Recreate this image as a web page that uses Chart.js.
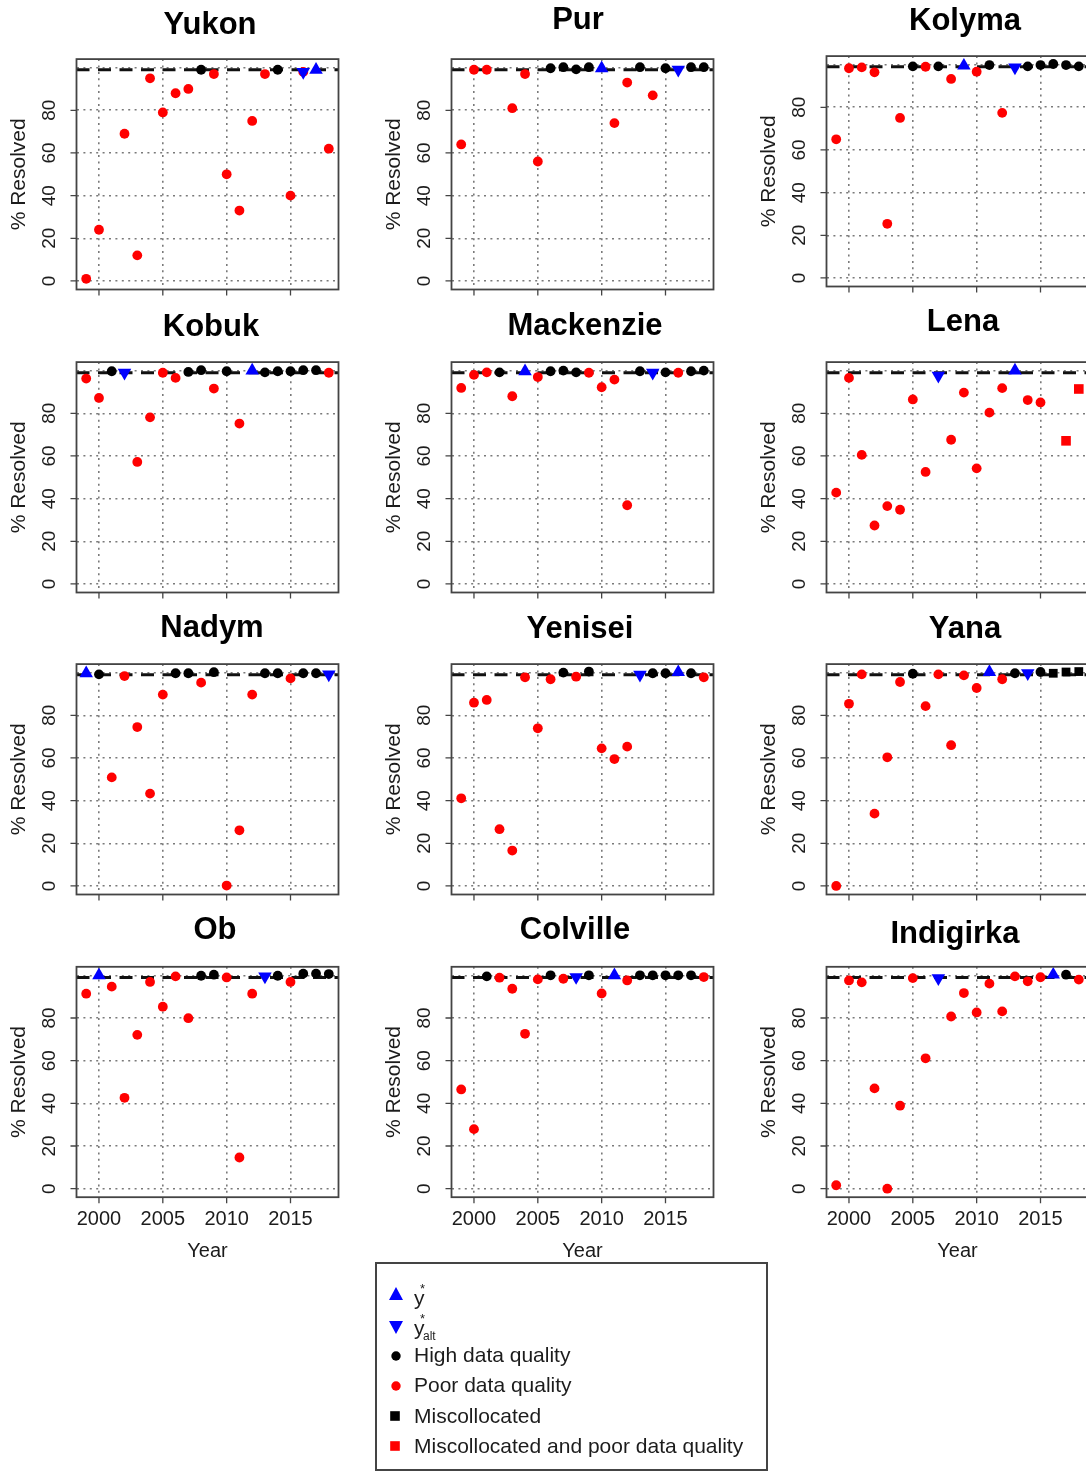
<!DOCTYPE html>
<html>
<head>
<meta charset="utf-8">
<script src="https://cdn.jsdelivr.net/npm/chart.js@4.4.1/dist/chart.umd.min.js"></script>
<style>
  html, body { margin: 0; padding: 0; background: #fff; }
  #page { position: relative; width: 1086px; height: 1472px; overflow: hidden; background: #fff; }
  #page canvas { position: absolute; }
</style>
</head>
<body>
<div id="page"></div>
<script>
// ---- Data: percent of record resolved per year, 1999-2018 ----
const years = [1999, 2000, 2001, 2002, 2003, 2004, 2005, 2006, 2007, 2008,
               2009, 2010, 2011, 2012, 2013, 2014, 2015, 2016, 2017, 2018];
const xTickYears = [2000, 2005, 2010, 2015];
const yTickValues = [0, 20, 40, 60, 80];
const yGridValues = [0, 20, 40, 60, 80, 100];
const resolvedTarget = 99;

// Quality codes: H = high data quality, P = poor data quality,
// M = miscollocated, B = miscollocated and poor quality, - = no marker
const yukonPct = [1, 24, null, 69, 12, 95, 79, 88, 90, 99, 97, 50, 33, 75, 97, 99, 40, 98, 99, 62];
const yukonQuality = 'P P - P P P P P P H P P P P P H P P - P'.split(' ');
const yukonStar = 2017, yukonAlt = 2016;

const purPct = [64, 99, 99, null, 81, 97, 56, 99.7, 100.2, 99.2, 100.2, 99.7, 74, 93, 100.2, 87, 99.7, 99, 100.2, 100.2];
const purQuality = 'P P P - P P P H H H H - P P H P H - H H'.split(' ');
const purStar = 2010, purAlt = 2016;

const kolymaPct = [65, 98.3, 98.7, 96.4, 25.4, 75, 99.2, 99, 99.2, 93.3, 99.5, 96.7, 99.8, 77.4, 98.7, 99.2, 99.8, 100.3, 99.8, 99.2];
const kolymaQuality = 'P P P P P P H P H P - P H P - H H H H H'.split(' ');
const kolymaStar = 2009, kolymaAlt = 2013;

const kobukPct = [96.3, 87.2, 99.7, 99, 57.2, 78.1, 99, 96.6, 99.4, 100.2, 91.6, 99.7, 75.2, 100, 99.2, 99.7, 99.7, 100.2, 100.2, 99];
const kobukQuality = 'P P H - P P P P H H P H P - H H H H H P'.split(' ');
const kobukStar = 2012, kobukAlt = 2002;

const mackenziePct = [91.9, 98, 99.2, 99.2, 88, 99.7, 97, 99.7, 100, 99.2, 99, 92.2, 95.8, 36.9, 99.7, 99, 99.2, 99, 99.7, 100];
const mackenzieQuality = 'P P P H P - P H H H P P P P H - H P H H'.split(' ');
const mackenzieStar = 2004, mackenzieAlt = 2014;

const lenaPct = [42.8, 96.6, 60.5, 27.4, 36.5, 34.8, 86.5, 52.5, 97.6, 67.6, 89.7, 54.2, 80.3, 91.8, 100, 86.2, 85.1, null, 67.1, 91.4];
const lenaQuality = 'P P P P P P P P - P P P P P - P P - B B'.split(' ');
const lenaStar = 2013, lenaAlt = 2007;

const nadymPct = [99.7, 99.2, 50.9, 98.4, 74.5, 43.3, 89.7, 99.7, 99.7, 95.3, 100.2, 0.2, 26.1, 89.7, 99.7, 99.7, 97.3, 99.7, 99.7, 99.2];
const nadymQuality = '- H P P P P P H H P H P P P H H P H H -'.split(' ');
const nadymStar = 1999, nadymAlt = 2018;

const yeniseiPct = [41.1, 85.9, 87.2, 26.6, 16.6, 97.8, 73.9, 96.9, 100, 98.1, 100.5, 64.5, 59.5, 65.3, 99, 99.7, 99.7, 100.2, 99.7, 97.8];
const yeniseiQuality = 'P P P P P P P P H P H P P P - H H - H P'.split(' ');
const yeniseiStar = 2016, yeniseiAlt = 2013;

const yanaPct = [0, 85.4, 99.2, 33.9, 60.3, 95.6, 99.5, 84.3, 99.2, 66, 98.7, 92.8, 100.3, 96.9, 99.7, 99.7, 100.3, 99.7, 100.3, 100.5];
const yanaQuality = 'P P P P P P H P P P P P - P H - H M M M'.split(' ');
const yanaStar = 2011, yanaAlt = 2014;

const obPct = [91.4, 100, 94.7, 42.6, 72.1, 96.9, 85.3, 99.5, 79.9, 99.8, 100.3, 99, 14.6, 91.4, 99.5, 99.8, 96.9, 100.8, 100.8, 100.6];
const obQuality = 'P - P P P P P P P H H P P P - H P H H H'.split(' ');
const obStar = 2000, obAlt = 2013;

const colvillePct = [46.5, 27.9, 99.5, 98.9, 93.7, 72.6, 98.1, 100, 98.4, 99.2, 100, 91.5, 100, 97.6, 100, 100, 100, 100, 100, 99.2];
const colvilleQuality = 'P P H P P P P H P - H P - P H H H H H P'.split(' ');
const colvilleStar = 2011, colvilleAlt = 2008;

const indigirkaPct = [1.6, 97.6, 96.7, 47, 0, 38.9, 98.7, 61.1, 98.7, 80.7, 91.7, 82.6, 96.1, 83.1, 99.5, 97.2, 99.1, 100.3, 100.3, 98];
const indigirkaQuality = 'P P P P P P P P - P P P P P P P P - H P'.split(' ');
const indigirkaStar = 2016, indigirkaAlt = 2007;

const rivers = [
  { name: 'Yukon',     pct: yukonPct,     quality: yukonQuality,     star: yukonStar,     alt: yukonAlt },
  { name: 'Pur',       pct: purPct,       quality: purQuality,       star: purStar,       alt: purAlt },
  { name: 'Kolyma',    pct: kolymaPct,    quality: kolymaQuality,    star: kolymaStar,    alt: kolymaAlt },
  { name: 'Kobuk',     pct: kobukPct,     quality: kobukQuality,     star: kobukStar,     alt: kobukAlt },
  { name: 'Mackenzie', pct: mackenziePct, quality: mackenzieQuality, star: mackenzieStar, alt: mackenzieAlt },
  { name: 'Lena',      pct: lenaPct,      quality: lenaQuality,      star: lenaStar,      alt: lenaAlt },
  { name: 'Nadym',     pct: nadymPct,     quality: nadymQuality,     star: nadymStar,     alt: nadymAlt },
  { name: 'Yenisei',   pct: yeniseiPct,   quality: yeniseiQuality,   star: yeniseiStar,   alt: yeniseiAlt },
  { name: 'Yana',      pct: yanaPct,      quality: yanaQuality,      star: yanaStar,      alt: yanaAlt },
  { name: 'Ob',        pct: obPct,        quality: obQuality,        star: obStar,        alt: obAlt },
  { name: 'Colville',  pct: colvillePct,  quality: colvilleQuality,  star: colvilleStar,  alt: colvilleAlt },
  { name: 'Indigirka', pct: indigirkaPct, quality: indigirkaQuality, star: indigirkaStar, alt: indigirkaAlt }
];

// ---- Layout (page pixels) ----
const BOX_W = 262, BOX_H = 230.4;
const PAD_L = 84, PAD_T = 64, PAD_R = 14, PAD_B = 78;
const X_MIN = 1998.24, X_MAX = 2018.76, Y_MIN = -4, Y_MAX = 104;
const panelBoxes = [
  [76.5, 59.1], [451.5, 59.1], [826.5, 56.1],
  [76.5, 362.1], [451.5, 362.1], [826.5, 362.1],
  [76.5, 664.1], [451.5, 664.1], [826.5, 664.1],
  [76.5, 966.8], [451.5, 966.8], [826.5, 966.8]
];
const titleAnchors = [
  [210, 24], [578, 19], [965, 20],
  [211, 326], [585, 325], [963, 321],
  [212, 627], [580, 628], [965, 628],
  [215, 929], [575, 929], [955, 933]
];

const FONT = '"Liberation Sans", Arial, Helvetica, sans-serif';
const RED = '#ff0000', BLUE = '#0000ff', BLACK = '#000000';
const GRID = '#7a7a7a';

const panelDecor = {
  id: 'panelDecor',
  afterDraw(chart, args, opts) {
    const { ctx, chartArea: a, scales } = chart;
    const xs = scales.x, ys = scales.y;
    ctx.save();
    // plot frame
    ctx.strokeStyle = '#444';
    ctx.lineWidth = 1.8;
    ctx.strokeRect(a.left, a.top, a.right - a.left, a.bottom - a.top);
    // tick marks
    ctx.beginPath();
    yTickValues.forEach(v => {
      const py = ys.getPixelForValue(v);
      ctx.moveTo(a.left - 6, py); ctx.lineTo(a.left, py);
    });
    xTickYears.forEach(v => {
      const px = xs.getPixelForValue(v);
      ctx.moveTo(px, a.bottom); ctx.lineTo(px, a.bottom + 6);
    });
    ctx.lineWidth = 1.3;
    ctx.stroke();

    ctx.fillStyle = '#1c1c1c';
    ctx.textAlign = 'center';
    ctx.textBaseline = 'middle';
    // y tick labels, parallel to the axis
    ctx.font = '19px ' + FONT;
    yTickValues.forEach(v => {
      const py = ys.getPixelForValue(v);
      ctx.save();
      ctx.translate(a.left - 27, py);
      ctx.rotate(-Math.PI / 2);
      ctx.fillText(String(v), 0, 0);
      ctx.restore();
    });
    // y axis title
    ctx.font = '21px ' + FONT;
    ctx.save();
    ctx.translate(a.left - 57, (a.top + a.bottom) / 2);
    ctx.rotate(-Math.PI / 2);
    ctx.fillText('% Resolved', 0, 0);
    ctx.restore();
    // x tick labels and title on the bottom row only
    if (opts.showX) {
      ctx.font = '20px ' + FONT;
      xTickYears.forEach(v => {
        ctx.fillText(String(v), xs.getPixelForValue(v), a.bottom + 22);
      });
      ctx.fillText('Year', (a.left + a.right) / 2, a.bottom + 54);
    }
    // panel title
    ctx.fillStyle = '#000';
    ctx.font = 'bold 31px ' + FONT;
    ctx.fillText(opts.title, opts.titleX, opts.titleY + 1);
    ctx.restore();
  }
};

const page = document.getElementById('page');

rivers.forEach((r, idx) => {
  const [bx, by] = panelBoxes[idx];
  const left = Math.round(bx - PAD_L);
  const top = Math.round(by - PAD_T);
  const padL = bx - left, padT = by - top;
  const w = Math.ceil(padL + BOX_W + PAD_R);
  const h = Math.ceil(padT + BOX_H + PAD_B);
  const canvas = document.createElement('canvas');
  canvas.width = w; canvas.height = h;
  canvas.style.left = left + 'px';
  canvas.style.top = top + 'px';
  canvas.style.width = w + 'px';
  canvas.style.height = h + 'px';
  page.appendChild(canvas);

  const pointsOf = code => years
    .map((yr, i) => (r.quality[i] === code && r.pct[i] !== null) ? { x: yr, y: r.pct[i] } : null)
    .filter(Boolean);
  const pointAt = yr => [{ x: yr, y: r.pct[years.indexOf(yr)] }];

  const datasets = [
    { data: pointAt(r.star), pointStyle: 'triangle', pointRadius: 7.8, pointBackgroundColor: BLUE,
      pointBorderWidth: 0, order: 0 },
    { data: pointAt(r.alt), pointStyle: 'triangle', rotation: 180, pointRadius: 7.8,
      pointBackgroundColor: BLUE, pointBorderWidth: 0, order: 0 },
    { data: pointsOf('H'), pointStyle: 'circle', pointRadius: 4.9, pointBackgroundColor: BLACK,
      pointBorderWidth: 0, order: 1 },
    { data: pointsOf('P'), pointStyle: 'circle', pointRadius: 4.9, pointBackgroundColor: RED,
      pointBorderWidth: 0, order: 1 },
    { data: pointsOf('M'), pointStyle: 'rect', pointRadius: 6.2, pointBackgroundColor: BLACK,
      pointBorderWidth: 0, order: 1 },
    { data: pointsOf('B'), pointStyle: 'rect', pointRadius: 6.8, pointBackgroundColor: RED,
      pointBorderWidth: 0, order: 1 },
    { data: [{ x: X_MIN, y: resolvedTarget }, { x: X_MAX, y: resolvedTarget }],
      showLine: true, pointRadius: 0, borderColor: '#111', borderWidth: 3,
      borderDash: [13, 8.5], order: 2 }
  ];
  datasets.forEach(d => { d.clip = false; });

  new Chart(canvas, {
    type: 'scatter',
    data: { datasets },
    plugins: [panelDecor],
    options: {
      responsive: false,
      animation: false,
      devicePixelRatio: 1,
      events: [],
      layout: { padding: { left: padL, top: padT, right: w - padL - BOX_W, bottom: h - padT - BOX_H } },
      plugins: {
        legend: { display: false },
        tooltip: { enabled: false },
        panelDecor: {
          title: r.name,
          titleX: titleAnchors[idx][0] - left,
          titleY: titleAnchors[idx][1] - top,
          showX: idx >= 9
        }
      },
      scales: {
        x: {
          type: 'linear', min: X_MIN, max: X_MAX,
          afterBuildTicks: s => { s.ticks = xTickYears.map(v => ({ value: v })); },
          afterFit: s => { s.height = 0; },
          ticks: { display: false },
          grid: { color: GRID, lineWidth: 1.6, drawTicks: false },
          border: { display: false, dash: [2, 4.4] }
        },
        y: {
          type: 'linear', min: Y_MIN, max: Y_MAX,
          afterBuildTicks: s => { s.ticks = yGridValues.map(v => ({ value: v })); },
          afterFit: s => { s.width = 0; },
          ticks: { display: false },
          grid: { color: GRID, lineWidth: 1.6, drawTicks: false },
          border: { display: false, dash: [2, 4.4] }
        }
      }
    }
  });
});

// ---- Legend ----
(function drawLegend() {
  const L = 370, T = 1256;
  const c = document.createElement('canvas');
  c.width = 410; c.height = 1472 - T;
  c.style.left = L + 'px'; c.style.top = T + 'px';
  c.style.width = c.width + 'px'; c.style.height = c.height + 'px';
  page.appendChild(c);
  const ctx = c.getContext('2d');
  const X = v => v - L, Y = v => v - T;

  ctx.strokeStyle = '#444';
  ctx.lineWidth = 2;
  ctx.strokeRect(X(376), Y(1263), 391, 207);

  const markSquare = (color, px, py) => {
    ctx.fillStyle = color;
    ctx.fillRect(X(px) - 4.8, Y(py) - 4.8, 9.6, 9.6);
  };
  const circle = (color, px, py) => {
    ctx.beginPath();
    ctx.arc(X(px), Y(py), 4.7, 0, Math.PI * 2);
    ctx.fillStyle = color;
    ctx.fill();
  };
  // up triangle
  ctx.beginPath();
  ctx.moveTo(X(396), Y(1287)); ctx.lineTo(X(403), Y(1300)); ctx.lineTo(X(389), Y(1300)); ctx.closePath();
  ctx.fillStyle = BLUE; ctx.fill();
  // down triangle
  ctx.beginPath();
  ctx.moveTo(X(389), Y(1321)); ctx.lineTo(X(403), Y(1321)); ctx.lineTo(X(396), Y(1334)); ctx.closePath();
  ctx.fillStyle = BLUE; ctx.fill();
  circle(BLACK, 396, 1356);
  circle(RED, 396, 1386);
  markSquare(BLACK, 395, 1416);
  markSquare(RED, 395, 1446);

  ctx.fillStyle = '#1c1c1c';
  ctx.textAlign = 'left';
  ctx.textBaseline = 'middle';
  ctx.font = '21px ' + FONT;
  ctx.fillText('y', X(414), Y(1299));
  ctx.fillText('y', X(414), Y(1329));
  ctx.font = '13px ' + FONT;
  ctx.fillText('*', X(420), Y(1289));
  ctx.fillText('*', X(420), Y(1319));
  ctx.font = '12px ' + FONT;
  ctx.fillText('alt', X(423), Y(1337));
  ctx.font = '21px ' + FONT;
  ctx.fillText('High data quality', X(414), Y(1356));
  ctx.fillText('Poor data quality', X(414), Y(1386));
  ctx.fillText('Miscollocated', X(414), Y(1417));
  ctx.fillText('Miscollocated and poor data quality', X(414), Y(1447));
})();
</script>
</body>
</html>
